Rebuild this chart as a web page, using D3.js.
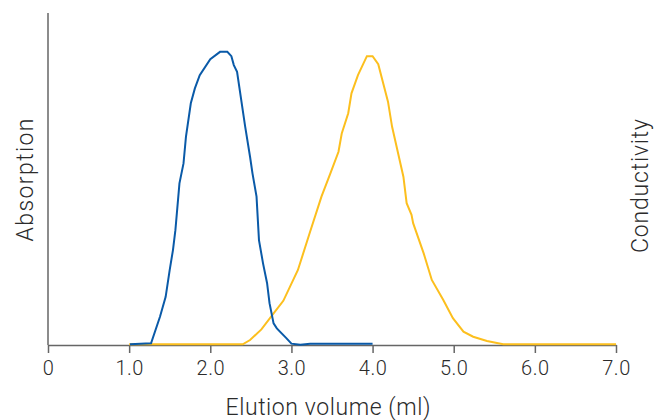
<!DOCTYPE html>
<html>
<head>
  <meta charset='utf-8'>
  <title>Elution profile</title>
  <script src="https://cdn.jsdelivr.net/npm/d3@7"></script>
  <style>
    body { margin: 0; background: #fff; }
    text { font-family: "Roboto", sans-serif; font-weight: 300; fill: #2b2b2b; }
  </style>
</head>
<body>
  <svg width="654" height="420" id="chart"></svg>
  <script>
    // absorption trace (blue)
    const absVol = [1.01, 1.27, 1.38, 1.45, 1.50, 1.54, 1.57, 1.62, 1.67, 1.70, 1.76, 1.81, 1.87, 2.00, 2.12, 2.21, 2.26, 2.29, 2.33, 2.43, 2.49, 2.52, 2.57, 2.60, 2.65, 2.70, 2.73, 2.78, 2.82, 2.94, 3.00, 3.11, 3.23, 4.00];
    const absVal = [0.2, 0.5, 8.5, 14.5, 22.6, 28.6, 34.6, 48.7, 54.7, 62.7, 72.8, 77.3, 81.3, 86.1, 88.3, 88.3, 87.0, 84.3, 82.3, 65.8, 56.7, 51.7, 44.7, 31.6, 24.6, 18.6, 12.6, 6.5, 5.0, 2.0, 0.4, 0.1, 0.4, 0.4];

    // conductivity trace (yellow)
    const condVol = [1.00, 2.40, 2.49, 2.63, 2.78, 2.90, 3.08, 3.23, 3.37, 3.48, 3.58, 3.62, 3.70, 3.74, 3.82, 3.93, 4.00, 4.07, 4.19, 4.24, 4.38, 4.42, 4.48, 4.50, 4.63, 4.73, 4.87, 4.99, 5.12, 5.24, 5.41, 5.61, 7.00];
    const condVal = [0.2, 0.2, 1.5, 4.7, 9.5, 13.3, 22.6, 34.1, 44.7, 51.7, 58.2, 63.7, 69.8, 75.8, 81.3, 87.0, 87.0, 84.6, 73.3, 65.8, 50.7, 42.7, 39.2, 36.7, 27.6, 19.6, 13.6, 8.1, 4.0, 2.5, 1.2, 0.2, 0.2];

    const tickVals = [0, 1, 2, 3, 4, 5, 6, 7];
    const tickLabels = ["0", "1.0", "2.0", "3.0", "4.0", "5.0", "6.0", "7.0"];

    const svg = d3.select('#chart');
    const x = d3.scaleLinear().domain([0, 7]).range([48, 616]);
    const y = d3.scaleLinear().domain([0, 100]).range([345, 13]);

    const line = d3.line().x(d => x(d[0])).y(d => y(d[1]));

    // axes
    const xAxis = svg.append('g')
      .attr('transform', `translate(0,${y(0)})`)
      .call(d3.axisBottom(x).tickValues(tickVals).tickFormat((d, i) => tickLabels[i]).tickSize(8).tickSizeOuter(0).tickPadding(8));
    xAxis.select('.domain').attr('stroke', '#666').attr('stroke-width', 1.5);
    xAxis.selectAll('.tick line').attr('stroke', '#666').attr('stroke-width', 1.5);
    xAxis.selectAll('.tick text').attr('font-size', 20).attr('fill', '#2b2b2b')
      .style('font-family', 'Roboto, sans-serif').style('font-weight', 300)
      .attr('letter-spacing', 0.5);

    svg.append('line')
      .attr('x1', x(0)).attr('x2', x(0))
      .attr('y1', 13).attr('y2', y(0))
      .attr('stroke', '#666').attr('stroke-width', 1.5);

    // traces
    svg.append('path')
      .datum(d3.zip(condVol, condVal))
      .attr('d', line)
      .attr('fill', 'none').attr('stroke', '#fcbf1e').attr('stroke-width', 2);

    svg.append('path')
      .datum(d3.zip(absVol, absVal))
      .attr('d', line)
      .attr('fill', 'none').attr('stroke', '#0a5aa8').attr('stroke-width', 2);

    // labels
    svg.append('text')
      .attr('x', 328).attr('y', 415)
      .attr('text-anchor', 'middle').attr('font-size', 23)
      .attr('textLength', 205)
      .text('Elution volume (ml)');

    svg.append('text')
      .attr('transform', 'translate(33,180) rotate(-90)')
      .attr('text-anchor', 'middle').attr('font-size', 23)
      .attr('textLength', 123)
      .text('Absorption');

    svg.append('text')
      .attr('transform', 'translate(648,186) rotate(-90)')
      .attr('text-anchor', 'middle').attr('font-size', 23)
      .attr('textLength', 134)
      .text('Conductivity');
  </script>
</body>
</html>
